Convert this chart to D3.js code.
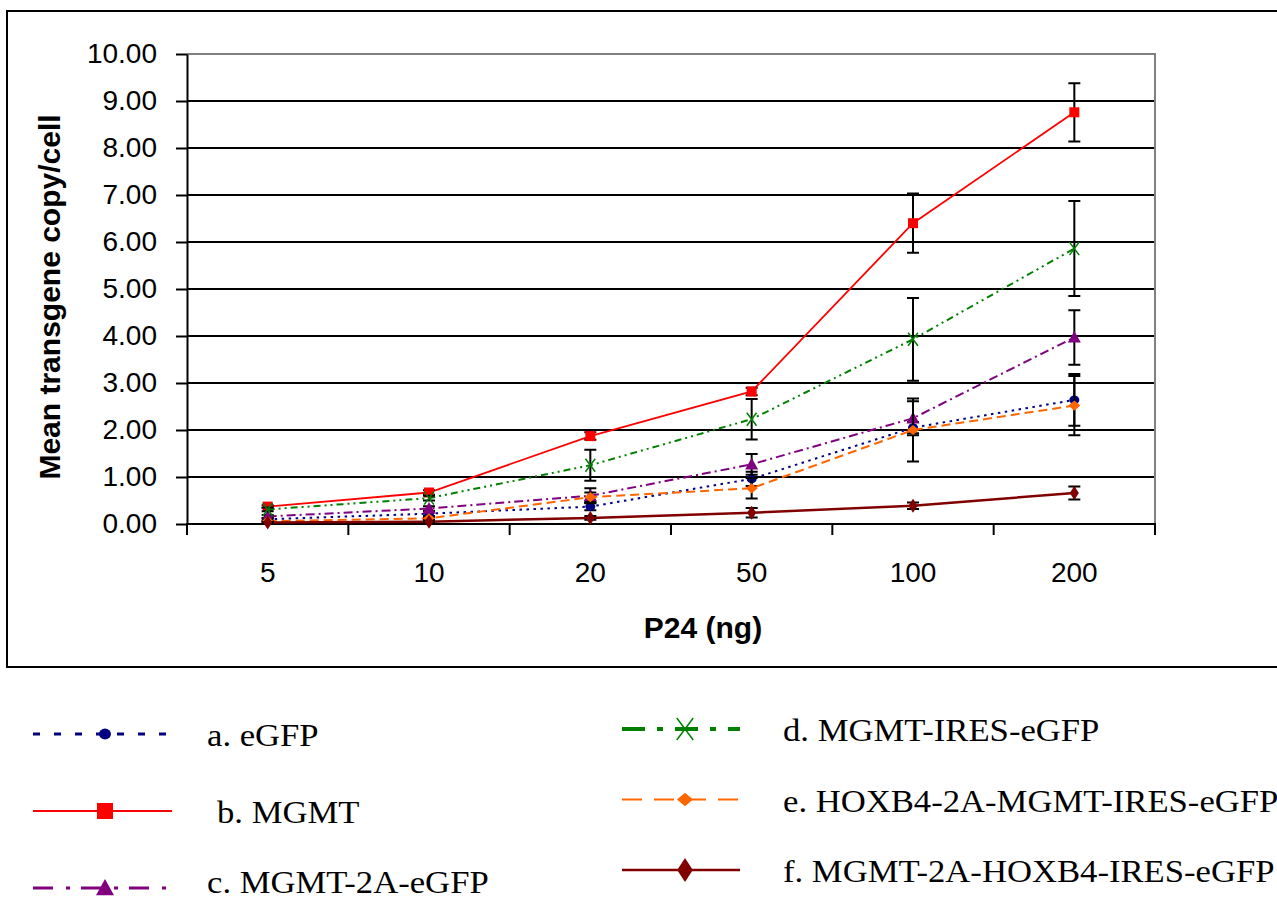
<!DOCTYPE html>
<html>
<head>
<meta charset="utf-8">
<script src="https://cdn.jsdelivr.net/npm/d3@7"></script>
<style>
  body { margin: 0; background: #fff; }
  svg { display: block; }
</style>
</head>
<body>
<div id="chart"></div>
<script>
// Data
const doses = ["5", "10", "20", "50", "100", "200"];
const yTicks = [0, 1, 2, 3, 4, 5, 6, 7, 8, 9, 10];

const seriesNames = [
    "a. eGFP",
    "b. MGMT",
    "c. MGMT-2A-eGFP",
    "d. MGMT-IRES-eGFP",
    "e. HOXB4-2A-MGMT-IRES-eGFP",
    "f. MGMT-2A-HOXB4-IRES-eGFP"
];
const eGFP        = [0.10, 0.22, 0.37, 0.96, 2.05, 2.64];
const eGFPErr     = [0.03, 0.05, 0.08, 0.15, 0.12, 0.55];
const mgmt        = [0.37, 0.67, 1.87, 2.82, 6.40, 8.76];
const mgmtErr     = [0.03, 0.05, 0.08, 0.08, 0.63, 0.62];
const mgmt2A      = [0.16, 0.33, 0.60, 1.27, 2.25, 3.97];
const mgmt2AErr   = [0.03, 0.05, 0.16, 0.22, 0.36, 0.58];
const mgmtIres    = [0.31, 0.55, 1.25, 2.23, 3.93, 5.86];
const mgmtIresErr = [0.04, 0.05, 0.33, 0.43, 0.88, 1.01];
const hoxb4       = [0.06, 0.12, 0.57, 0.76, 2.00, 2.52];
const hoxb4Err    = [0.02, 0.03, 0.10, 0.22, 0.67, 0.63];
const mgmtHox     = [0.03, 0.05, 0.13, 0.24, 0.39, 0.66];
const mgmtHoxErr  = [0.01, 0.02, 0.04, 0.10, 0.07, 0.14];

const values = [eGFP, mgmt, mgmt2A, mgmtIres, hoxb4, mgmtHox];
const errors = [eGFPErr, mgmtErr, mgmt2AErr, mgmtIresErr, hoxb4Err, mgmtHoxErr];

// Styles per series
const colors = ["#000080", "#ff0000", "#800080", "#008000", "#ff6600", "#800000"];
const dashes = ["2.5 4.5", null, "9 4 2 4", "7 4 2 4 2 4", "9 5", null];
const widths = [2, 1.8, 2, 2, 2, 2.5];
const legendDashes = ["7 14", null, "20 13 4 11", "23 12 6 12", "20 12", null];
const legendWidths = [3, 2, 3, 4, 2, 2.5];
const shapes = ["circle", "square", "triangle", "cross", "diamond", "tallDiamond"];

const width = 1277, height = 901;
const plot = { left: 187, right: 1155, top: 54, bottom: 524 };

const svg = d3.select("#chart").append("svg")
    .attr("width", width)
    .attr("height", height);

// Outer frame
svg.append("rect")
    .attr("x", 7).attr("y", 11)
    .attr("width", 1300).attr("height", 656)
    .attr("fill", "none")
    .attr("stroke", "#000")
    .attr("stroke-width", 2);

const x = d3.scaleBand()
    .domain(doses)
    .range([plot.left, plot.right]);

const y = d3.scaleLinear()
    .domain([0, 10])
    .range([plot.bottom, plot.top]);

// Grid lines
svg.append("g")
    .selectAll("line")
    .data(yTicks.filter(d => d > 0 && d < 10))
    .join("line")
    .attr("x1", plot.left).attr("x2", plot.right)
    .attr("y1", d => y(d)).attr("y2", d => y(d))
    .attr("stroke", "#000")
    .attr("stroke-width", 2);

// Plot area border (grey top and right)
svg.append("path")
    .attr("d", `M${plot.left},${y(10)}H${plot.right}V${plot.bottom}`)
    .attr("fill", "none")
    .attr("stroke", "#808080")
    .attr("stroke-width", 2);

// Y axis
const yAxis = svg.append("g")
    .attr("transform", `translate(${plot.left},0)`)
    .call(d3.axisLeft(y).tickValues(yTicks).tickFormat(d3.format(".2f"))
        .tickSizeOuter(0).tickSizeInner(11).tickPadding(19));
yAxis.select(".domain").attr("stroke-width", 2);
yAxis.selectAll(".tick line").attr("stroke-width", 2);
yAxis.selectAll(".tick text")
    .attr("font-family", "'Liberation Sans', Arial, sans-serif")
    .attr("font-size", "28px")
    .attr("fill", "#000");

// X axis: ticks sit on the band boundaries
const xAxis = svg.append("g")
    .attr("transform", `translate(0,${plot.bottom})`);
xAxis.append("line")
    .attr("x1", plot.left - 1).attr("x2", plot.right + 1)
    .attr("stroke", "#000").attr("stroke-width", 2);
xAxis.selectAll(".xtick")
    .data(doses)
    .join("line")
    .attr("class", "xtick")
    .attr("x1", d => x(d) + x.bandwidth()).attr("x2", d => x(d) + x.bandwidth())
    .attr("y1", 0).attr("y2", 11)
    .attr("stroke", "#000").attr("stroke-width", 2);
xAxis.append("line")
    .attr("x1", plot.left).attr("x2", plot.left)
    .attr("y1", 0).attr("y2", 11)
    .attr("stroke", "#000").attr("stroke-width", 2);
xAxis.selectAll(".xlabel")
    .data(doses)
    .join("text")
    .attr("class", "xlabel")
    .attr("x", d => x(d) + x.bandwidth() / 2)
    .attr("y", 58)
    .attr("text-anchor", "middle")
    .attr("font-family", "'Liberation Sans', Arial, sans-serif")
    .attr("font-size", "28px")
    .text(d => d);

// Axis titles
svg.append("text")
    .attr("x", 703).attr("y", 638)
    .attr("text-anchor", "middle")
    .attr("font-family", "'Liberation Sans', Arial, sans-serif")
    .attr("font-weight", "bold")
    .attr("font-size", "30px")
    .text("P24 (ng)");

svg.append("text")
    .attr("transform", "translate(60,297) rotate(-90)")
    .attr("text-anchor", "middle")
    .attr("font-family", "'Liberation Sans', Arial, sans-serif")
    .attr("font-weight", "bold")
    .attr("font-size", "30px")
    .text("Mean transgene copy/cell");

// Marker drawing
function drawMarker(g, shape, color, size) {
    const s = size / 2;
    if (shape === "circle") {
        g.append("ellipse").attr("rx", s).attr("ry", s * 0.9).attr("fill", color);
    } else if (shape === "square") {
        g.append("rect").attr("x", -s).attr("y", -s)
            .attr("width", size).attr("height", size).attr("fill", color);
    } else if (shape === "triangle") {
        g.append("path").attr("d", `M0,${-s}L${s},${s * 0.8}L${-s},${s * 0.8}Z`).attr("fill", color);
    } else if (shape === "cross") {
        g.append("path").attr("d", `M${-s * 0.75},${-s}L${s * 0.75},${s}M${s * 0.75},${-s}L${-s * 0.75},${s}`)
            .attr("stroke", color).attr("stroke-width", 1.5).attr("fill", "none");
    } else if (shape === "diamond") {
        g.append("path").attr("d", `M0,${-s * 0.85}L${s},0L0,${s * 0.85}L${-s},0Z`).attr("fill", color);
    } else {
        g.append("path").attr("d", `M0,${-s}L${s * 0.65},0L0,${s}L${-s * 0.65},0Z`).attr("fill", color);
    }
}

const line = d3.line()
    .x((d, i) => x(doses[i]) + x.bandwidth() / 2)
    .y(d => y(d));

const markerSizes = [10, 10, 13, 13, 12, 14];

values.forEach((vals, k) => {
    const g = svg.append("g");
    g.append("path")
        .datum(vals)
        .attr("d", line)
        .attr("fill", "none")
        .attr("stroke", colors[k])
        .attr("stroke-width", widths[k])
        .attr("stroke-dasharray", dashes[k]);

    // error bars
    const bars = g.selectAll(".err")
        .data(vals.map((v, i) => ({ v, e: errors[k][i], c: doses[i] })))
        .join("g")
        .attr("transform", d => `translate(${x(d.c) + x.bandwidth() / 2},0)`);
    bars.append("path")
        .attr("d", d => `M0,${y(d.v + d.e)}V${y(d.v - d.e)}M-6,${y(d.v + d.e)}H6M-6,${y(d.v - d.e)}H6`)
        .attr("stroke", "#000")
        .attr("stroke-width", 2)
        .attr("fill", "none");

    vals.forEach((v, i) => {
        const m = g.append("g")
            .attr("transform", `translate(${x(doses[i]) + x.bandwidth() / 2},${y(v)})`);
        drawMarker(m, shapes[k], colors[k], markerSizes[k]);
    });
});

// Legend (two columns of three, below the frame)
const legendCols = [
    { x1: 33, x2: 172, mx: 105, tx: 207, y0: 734, step: 77 },
    { x1: 622, x2: 740, mx: 685, tx: 783, y0: 729, step: 70.5 }
];
const legendMarkerSizes = [12, 16, 18, 22, 16, 24];

seriesNames.forEach((name, k) => {
    const col = legendCols[Math.floor(k / 3)];
    const ly = col.y0 + (k % 3) * col.step;
    const g = svg.append("g");
    g.append("line")
        .attr("x1", col.x1).attr("x2", col.x2)
        .attr("y1", ly).attr("y2", ly)
        .attr("stroke", colors[k])
        .attr("stroke-width", legendWidths[k])
        .attr("stroke-dasharray", legendDashes[k]);
    const m = g.append("g").attr("transform", `translate(${col.mx},${ly})`);
    drawMarker(m, shapes[k], colors[k], legendMarkerSizes[k]);
    // text in the source is slightly stretched sideways
    const tx = col.tx + (k === 1 ? 10 : 0);
    const ty = Math.min(ly + 12, 893);
    g.append("text")
        .attr("transform", `translate(${tx},${ty}) scale(1.1,1)`)
        .attr("font-family", "'Liberation Serif', 'Times New Roman', serif")
        .attr("font-size", "31.5px")
        .text(name);
});
</script>
</body>
</html>
